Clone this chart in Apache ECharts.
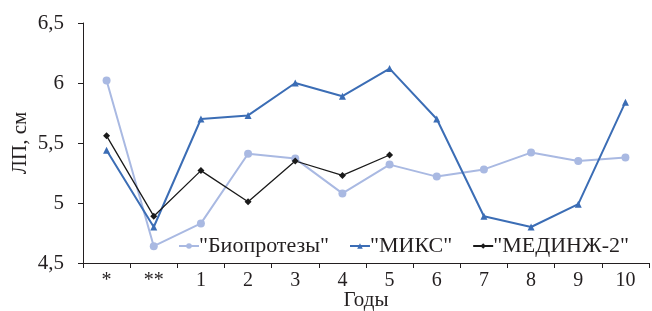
<!DOCTYPE html>
<html>
<head>
<meta charset="utf-8">
<script src="https://cdn.jsdelivr.net/npm/echarts@6/dist/echarts.min.js"></script>
<style>
  html, body { margin: 0; padding: 0; background: #fff; }
  #chart { width: 652px; height: 311px; }
</style>
</head>
<body>
<div id="chart"></div>
<script>
// категории по оси X
var categories = ['*', '**', '1', '2', '3', '4', '5', '6', '7', '8', '9', '10'];
// ЛП, см
var bioValues = [6.02, 4.64, 4.83, 5.41, 5.37, 5.08, 5.32, 5.22, 5.28, 5.42, 5.35, 5.38];
var miksValues = [5.44, 4.80, 5.70, 5.73, 6.00, 5.89, 6.12, 5.70, 4.89, 4.80, 4.99, 5.84];
var medinjValues = [5.56, 4.89, 5.27, 5.01, 5.35, 5.23, 5.40];

var font = '"Liberation Serif", "DejaVu Serif", serif';
var ink = '#231f20';

var chart = echarts.init(document.getElementById('chart'));
var option = {
	animation: false,
	textStyle: { fontFamily: font },
	grid: { left: 83, right: 3, top: 23, bottom: 48, containLabel: false, outerBoundsMode: 'none' },
	legend: {
		left: 173,
		top: 230,
		itemWidth: 20,
		itemHeight: 7,
		itemGap: 20,
		textStyle: { fontFamily: font, fontSize: 22, color: ink, padding: [0, 0, 0, -5] },
		data: ['"Биопротезы"', '"МИКС"', '"МЕДИНЖ-2"']
	},
	xAxis: {
		type: 'category',
		data: categories,
		boundaryGap: true,
		name: 'Годы',
		nameLocation: 'middle',
		nameGap: 27,
		nameMoveOverlap: false,
		nameTextStyle: { fontFamily: font, fontSize: 21, color: ink },
		axisLine: { lineStyle: { color: ink, width: 1 } },
		axisTick: { show: true, length: 5, lineStyle: { color: ink } },
		axisLabel: { fontFamily: font, fontSize: 20, color: ink, margin: 8 }
	},
	yAxis: {
		type: 'value',
		min: 4.5,
		max: 6.5,
		interval: 0.5,
		name: 'ЛП, см',
		nameLocation: 'middle',
		nameGap: 52,
		nameMoveOverlap: false,
		nameTextStyle: { fontFamily: font, fontSize: 21, color: ink },
		splitLine: { show: false },
		axisLine: { show: true, lineStyle: { color: ink, width: 1 } },
		axisTick: { show: true, length: 5, lineStyle: { color: ink } },
		axisLabel: {
			fontFamily: font, fontSize: 21, color: ink, margin: 19,
			formatter: function(v) { return String(v).replace('.', ','); }
		}
	},
	series: [{
		name: '"Биопротезы"',
		type: 'line',
		data: bioValues,
		symbol: 'circle',
		symbolSize: 8,
		lineStyle: { color: '#a9b9e2', width: 2 },
		itemStyle: { color: '#a9b9e2' }
	}, {
		name: '"МИКС"',
		type: 'line',
		data: miksValues,
		symbol: 'triangle',
		symbolSize: 7,
		lineStyle: { color: '#3b6db5', width: 2 },
		itemStyle: { color: '#3b6db5' }
	}, {
		name: '"МЕДИНЖ-2"',
		type: 'line',
		data: medinjValues,
		symbol: 'diamond',
		symbolSize: 7,
		lineStyle: { color: '#1a1a1a', width: 1.3 },
		itemStyle: { color: '#1a1a1a' }
	}]
};
chart.setOption(option);
</script>
</body>
</html>
